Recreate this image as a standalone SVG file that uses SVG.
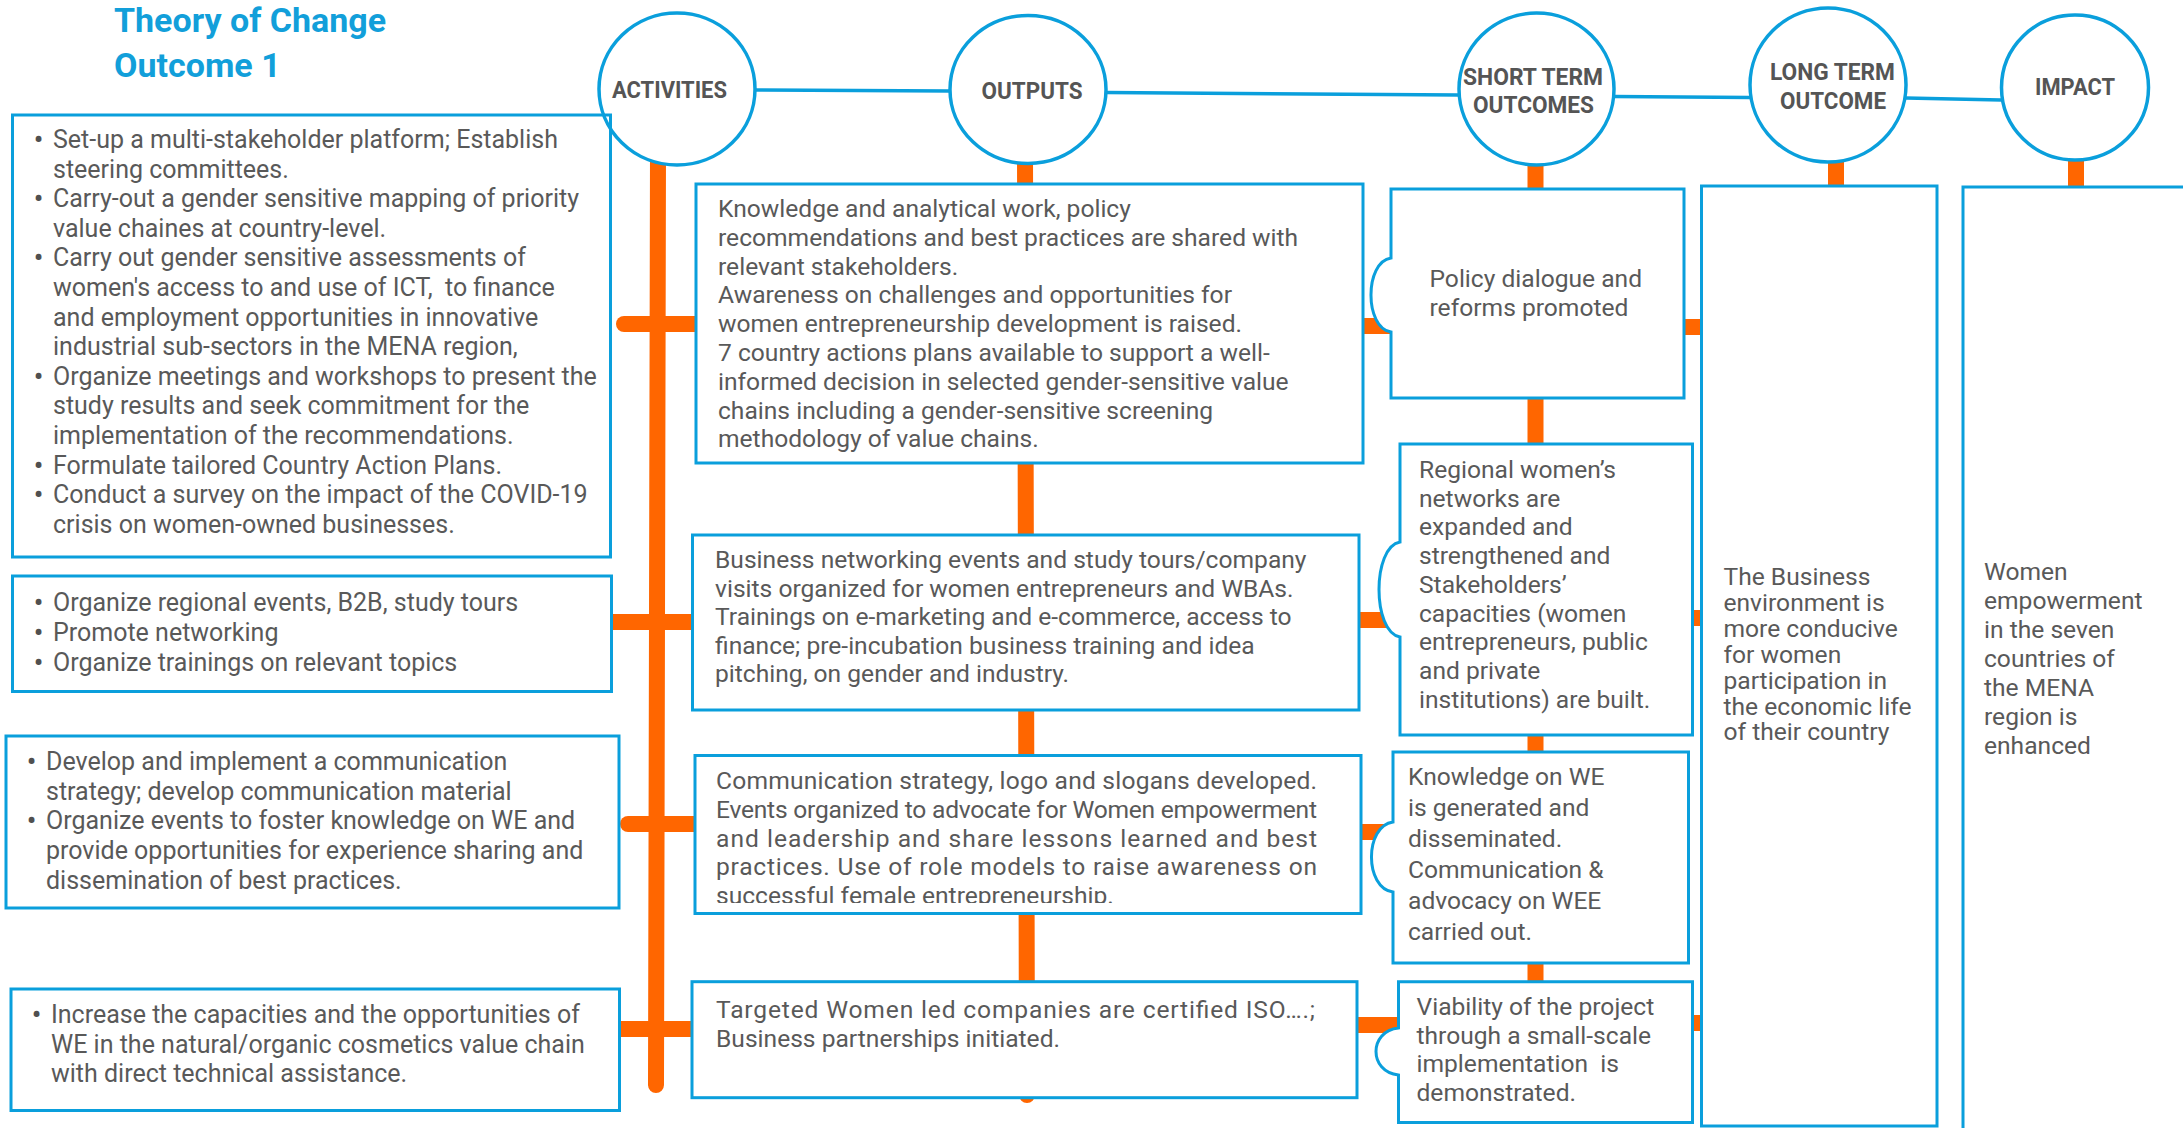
<svg xmlns="http://www.w3.org/2000/svg" width="2183" height="1128" viewBox="0 0 2183 1128">
<defs>
<style>
.bx{fill:#fff;stroke:#0A9FDC;stroke-width:3}
.bxn{fill:none;stroke:#0A9FDC;stroke-width:3}
.cir{fill:#fff;stroke:#0A9FDC;stroke-width:3.5}
.blink{stroke:#0A9FDC;stroke-width:3.5;fill:none}
.or{stroke:#FF6600;stroke-width:16;fill:none;stroke-linecap:butt}
.orr{stroke:#FF6600;stroke-width:16;fill:none;stroke-linecap:round}
.t{font-family:Roboto,"Liberation Sans",sans-serif;font-size:24.6px;fill:#595959}
.ta{font-family:Roboto,"Liberation Sans",sans-serif;font-size:25px;fill:#595959}
.bu{font-weight:bold;fill:#505050}
.hd{font-family:Roboto,"Liberation Sans",sans-serif;font-size:23px;font-weight:bold;fill:#555;text-anchor:middle}
.ti{font-family:Roboto,"Liberation Sans",sans-serif;font-size:34px;font-weight:bold;fill:#129FDA}
</style>
<clipPath id="clipO3"><rect x="690" y="750" width="680" height="153"/></clipPath>
</defs>
<rect width="2183" height="1128" fill="#fff"/>

<g id="title">
<text class="ti" x="114" y="32">Theory of Change</text>
<text class="ti" x="114" y="77">Outcome 1</text>
</g>

<g id="connectors">
<path class="blink" d="M755,90 L950,91"/>
<path class="blink" d="M1106,92.5 L1459,95"/>
<path class="blink" d="M1614,96.5 L1750,97.5"/>
<path class="blink" d="M1906,98 L2001,100"/>
<path class="orr" d="M658,150 L656,1085"/>
<path class="orr" d="M624,324 H700"/>
<path class="or" d="M605,622 H700"/>
<path class="orr" d="M628,824 H700"/>
<path class="or" d="M612,1029 H700"/>
<path class="orr" d="M1025,150 L1027,1095"/>
<path class="or" d="M1355,326 H1395"/>
<path class="or" d="M1355,620 H1402"/>
<path class="or" d="M1355,832 H1395"/>
<path class="or" d="M1352,1025 H1402"/>
<path class="or" d="M1535.5,150 V985"/>
<path class="or" d="M1680,327 H1705"/>
<path class="or" d="M1688,618 H1705"/>
<path class="or" d="M1688,1023 H1705"/>
<path class="or" d="M1836,150 V190"/>
<path class="or" d="M2076,150 V190"/>
</g>

<g id="activities">
<ellipse class="cir" cx="677" cy="89" rx="78" ry="76"/>
<text class="hd" x="669.5" y="98" textLength="115" lengthAdjust="spacingAndGlyphs">ACTIVITIES</text>
</g>
<g id="outputs">
<ellipse class="cir" cx="1028" cy="89.5" rx="78" ry="74"/>
<text class="hd" x="1032" y="99" textLength="101" lengthAdjust="spacingAndGlyphs">OUTPUTS</text>
</g>
<g id="short-term-outcomes">
<ellipse class="cir" cx="1536.5" cy="89" rx="77.5" ry="76"/>
<text class="hd" x="1533" y="85" textLength="140" lengthAdjust="spacingAndGlyphs">SHORT TERM</text>
<text class="hd" x="1533.5" y="113" textLength="121" lengthAdjust="spacingAndGlyphs">OUTCOMES</text>
</g>
<g id="long-term-outcome">
<ellipse class="cir" cx="1828" cy="85" rx="78" ry="77"/>
<text class="hd" x="1832.5" y="80" textLength="125" lengthAdjust="spacingAndGlyphs">LONG TERM</text>
<text class="hd" x="1833" y="109" textLength="106" lengthAdjust="spacingAndGlyphs">OUTCOME</text>
</g>
<g id="impact">
<ellipse class="cir" cx="2075" cy="87.5" rx="73.5" ry="72.5"/>
<text class="hd" x="2075" y="95" textLength="80" lengthAdjust="spacingAndGlyphs">IMPACT</text>
</g>

<g id="activity-1">
<rect class="bxn" x="12.5" y="115" width="598" height="442"/>
<text class="ta">
<tspan class="bu" x="34" y="148">•</tspan><tspan x="53" y="148">Set-up a multi-stakeholder platform; Establish</tspan>
<tspan x="53" y="177.6">steering committees.</tspan>
<tspan class="bu" x="34" y="207.2">•</tspan><tspan x="53" y="207.2">Carry-out a gender sensitive mapping of priority</tspan>
<tspan x="53" y="236.8">value chaines at country-level.</tspan>
<tspan class="bu" x="34" y="266.4">•</tspan><tspan x="53" y="266.4">Carry out gender sensitive assessments of</tspan>
<tspan x="53" y="296" xml:space="preserve">women's access to and use of ICT,  to finance</tspan>
<tspan x="53" y="325.6">and employment opportunities in innovative</tspan>
<tspan x="53" y="355.2">industrial sub-sectors in the MENA region,</tspan>
<tspan class="bu" x="34" y="384.8">•</tspan><tspan x="53" y="384.8">Organize meetings and workshops to present the</tspan>
<tspan x="53" y="414.4">study results and seek commitment for the</tspan>
<tspan x="53" y="444">implementation of the recommendations.</tspan>
<tspan class="bu" x="34" y="473.6">•</tspan><tspan x="53" y="473.6">Formulate tailored Country Action Plans.</tspan>
<tspan class="bu" x="34" y="503.2">•</tspan><tspan x="53" y="503.2">Conduct a survey on the impact of the COVID-19</tspan>
<tspan x="53" y="532.8">crisis on women-owned businesses.</tspan>
</text>
</g>

<g id="activity-2">
<rect class="bx" x="12.5" y="576" width="599" height="115.5"/>
<text class="ta">
<tspan class="bu" x="34" y="611">•</tspan><tspan x="53" y="611">Organize regional events, B2B, study tours</tspan>
<tspan class="bu" x="34" y="641">•</tspan><tspan x="53" y="641">Promote networking</tspan>
<tspan class="bu" x="34" y="671">•</tspan><tspan x="53" y="671">Organize trainings on relevant topics</tspan>
</text>
</g>

<g id="activity-3">
<rect class="bx" x="6" y="736" width="613" height="172"/>
<text class="ta">
<tspan class="bu" x="27" y="770">•</tspan><tspan x="46" y="770">Develop and implement a communication</tspan>
<tspan x="46" y="799.7">strategy; develop communication material</tspan>
<tspan class="bu" x="27" y="829.4">•</tspan><tspan x="46" y="829.4">Organize events to foster knowledge on WE and</tspan>
<tspan x="46" y="859.1">provide opportunities for experience sharing and</tspan>
<tspan x="46" y="888.8">dissemination of best practices.</tspan>
</text>
</g>

<g id="activity-4">
<rect class="bx" x="11" y="989" width="608.5" height="121.5"/>
<text class="ta">
<tspan class="bu" x="32" y="1023">•</tspan><tspan x="51" y="1023">Increase the capacities and the opportunities of</tspan>
<tspan x="51" y="1052.5">WE in the natural/organic cosmetics value chain</tspan>
<tspan x="51" y="1082">with direct technical assistance.</tspan>
</text>
</g>

<g id="output-1">
<rect class="bx" x="696" y="184" width="667" height="279"/>
<text class="t">
<tspan x="718" y="217">Knowledge and analytical work, policy</tspan>
<tspan x="718" y="245.8">recommendations and best practices are shared with</tspan>
<tspan x="718" y="274.6">relevant stakeholders.</tspan>
<tspan x="718" y="303.4">Awareness on challenges and opportunities for</tspan>
<tspan x="718" y="332.2">women entrepreneurship development is raised.</tspan>
<tspan x="718" y="361">7 country actions plans available to support a well-</tspan>
<tspan x="718" y="389.8">informed decision in selected gender-sensitive value</tspan>
<tspan x="718" y="418.6">chains including a gender-sensitive screening</tspan>
<tspan x="718" y="447.4">methodology of value chains.</tspan>
</text>
</g>

<g id="output-2">
<rect class="bx" x="692.5" y="535" width="666.5" height="175"/>
<text class="t">
<tspan x="715" y="568">Business networking events and study tours/company</tspan>
<tspan x="715" y="596.6">visits organized for women entrepreneurs and WBAs.</tspan>
<tspan x="715" y="625.2">Trainings on e-marketing and e-commerce, access to</tspan>
<tspan x="715" y="653.8">finance; pre-incubation business training and idea</tspan>
<tspan x="715" y="682.4">pitching, on gender and industry.</tspan>
</text>
</g>

<g id="output-3">
<rect class="bx" x="695" y="755.5" width="666" height="158"/>
<g clip-path="url(#clipO3)">
<text class="t">
<tspan x="716" y="789" textLength="601" lengthAdjust="spacing">Communication strategy, logo and slogans developed.</tspan>
<tspan x="716" y="817.8" textLength="601" lengthAdjust="spacing">Events organized to advocate for Women empowerment</tspan>
<tspan x="716" y="846.6" textLength="601" lengthAdjust="spacing">and leadership and share lessons learned and best</tspan>
<tspan x="716" y="875.4" textLength="601" lengthAdjust="spacing">practices. Use of role models to raise awareness on</tspan>
<tspan x="716" y="904.2">successful female entrepreneurship.</tspan>
</text>
</g>
</g>

<g id="output-4">
<rect class="bx" x="692" y="981.7" width="665" height="116"/>
<text class="t">
<tspan x="716" y="1018" textLength="599" lengthAdjust="spacing">Targeted Women led companies are certified ISO….;</tspan>
<tspan x="716" y="1047">Business partnerships initiated.</tspan>
</text>
</g>

<g id="st-outcome-1">
<path class="bx" d="M1391,189 H1684 V398 H1391 V332 C1364.3,328 1364.3,262 1391,258 Z"/>
<text class="t">
<tspan x="1429.5" y="287">Policy dialogue and</tspan>
<tspan x="1429.5" y="316">reforms promoted</tspan>
</text>
</g>

<g id="st-outcome-2">
<path class="bx" d="M1400,444 H1692.5 V735 H1400 V637 C1372,632 1372,547 1400,542 Z"/>
<text class="t">
<tspan x="1419" y="478">Regional women’s</tspan>
<tspan x="1419" y="506.7">networks are</tspan>
<tspan x="1419" y="535.4">expanded and</tspan>
<tspan x="1419" y="564.1">strengthened and</tspan>
<tspan x="1419" y="592.8">Stakeholders’</tspan>
<tspan x="1419" y="621.5">capacities (women</tspan>
<tspan x="1419" y="650.2">entrepreneurs, public</tspan>
<tspan x="1419" y="678.9">and private</tspan>
<tspan x="1419" y="707.6">institutions) are built.</tspan>
</text>
</g>

<g id="st-outcome-3">
<path class="bx" d="M1393,752 H1688.5 V963 H1393 V892 C1364.3,888 1364.3,826 1393,822 Z"/>
<text class="t">
<tspan x="1408" y="785">Knowledge on WE</tspan>
<tspan x="1408" y="816">is generated and</tspan>
<tspan x="1408" y="847">disseminated.</tspan>
<tspan x="1408" y="878">Communication &amp;</tspan>
<tspan x="1408" y="909">advocacy on WEE</tspan>
<tspan x="1408" y="940">carried out.</tspan>
</text>
</g>

<g id="st-outcome-4">
<path class="bx" d="M1398.5,981.7 H1692.5 V1122.5 H1398.5 V1075 C1368.5,1072 1368.5,1031 1398.5,1028 Z"/>
<text class="t">
<tspan x="1416.5" y="1015">Viability of the project</tspan>
<tspan x="1416.5" y="1043.7">through a small-scale</tspan>
<tspan x="1416.5" y="1072.4" xml:space="preserve">implementation  is</tspan>
<tspan x="1416.5" y="1101">demonstrated.</tspan>
</text>
</g>

<g id="long-term-box">
<rect class="bx" x="1701.5" y="186" width="235.5" height="940"/>
<text class="t">
<tspan x="1723.5" y="585">The Business</tspan>
<tspan x="1723.5" y="610.9">environment is</tspan>
<tspan x="1723.5" y="636.8">more conducive</tspan>
<tspan x="1723.5" y="662.7">for women</tspan>
<tspan x="1723.5" y="688.6">participation in</tspan>
<tspan x="1723.5" y="714.5">the economic life</tspan>
<tspan x="1723.5" y="740.4">of their country</tspan>
</text>
</g>

<g id="impact-box">
<rect class="bx" x="1963" y="187" width="240" height="960"/>
<text class="t">
<tspan x="1984" y="580">Women</tspan>
<tspan x="1984" y="609">empowerment</tspan>
<tspan x="1984" y="638">in the seven</tspan>
<tspan x="1984" y="667">countries of</tspan>
<tspan x="1984" y="696">the MENA</tspan>
<tspan x="1984" y="725">region is</tspan>
<tspan x="1984" y="754">enhanced</tspan>
</text>
</g>
</svg>
